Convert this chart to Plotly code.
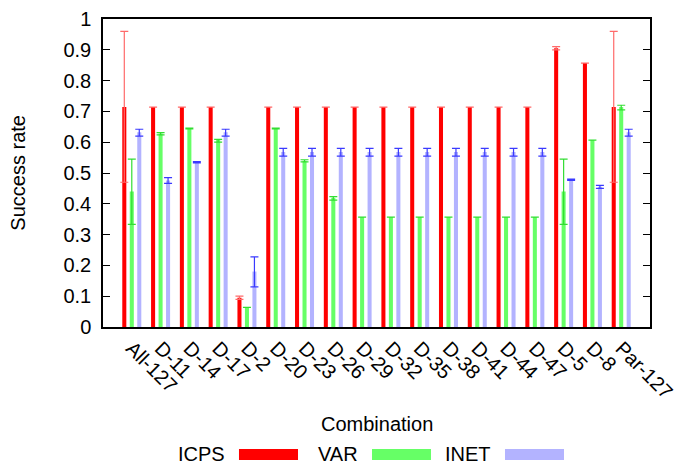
import plotly.graph_objects as go

combos = ['All-127', 'D-11', 'D-14', 'D-17', 'D-2', 'D-20', 'D-23', 'D-26', 'D-29',
          'D-32', 'D-35', 'D-38', 'D-41', 'D-44', 'D-47', 'D-5', 'D-8', 'Par-127']

icps = [0.714, 0.714, 0.714, 0.714, 0.095, 0.714, 0.714, 0.714, 0.714,
        0.714, 0.714, 0.714, 0.714, 0.714, 0.714, 0.905, 0.857, 0.714]
icps_lo = [0.47, 0.714, 0.714, 0.714, 0.09, 0.714, 0.714, 0.714, 0.714,
           0.714, 0.714, 0.714, 0.714, 0.714, 0.714, 0.90, 0.857, 0.47]
icps_hi = [0.96, 0.714, 0.714, 0.714, 0.10, 0.714, 0.714, 0.714, 0.714,
           0.714, 0.714, 0.714, 0.714, 0.714, 0.714, 0.91, 0.857, 0.96]

var = [0.44, 0.628, 0.643, 0.607, 0.064, 0.643, 0.54, 0.42, 0.357,
       0.357, 0.357, 0.357, 0.357, 0.357, 0.357, 0.44, 0.607, 0.714]
var_lo = [0.333, 0.624, 0.643, 0.600, 0.064, 0.643, 0.536, 0.412, 0.357,
          0.357, 0.357, 0.357, 0.357, 0.357, 0.357, 0.333, 0.607, 0.705]
var_hi = [0.545, 0.631, 0.646, 0.609, 0.064, 0.646, 0.543, 0.423, 0.357,
          0.357, 0.357, 0.357, 0.357, 0.357, 0.357, 0.545, 0.607, 0.72]

inet = [0.632, 0.476, 0.535, 0.632, 0.18, 0.568, 0.568, 0.568, 0.568,
        0.568, 0.568, 0.568, 0.568, 0.568, 0.568, 0.478, 0.455, 0.632]
inet_lo = [0.62, 0.466, 0.533, 0.62, 0.13, 0.555, 0.555, 0.555, 0.555,
           0.555, 0.555, 0.555, 0.555, 0.555, 0.555, 0.476, 0.45, 0.62]
inet_hi = [0.642, 0.485, 0.537, 0.642, 0.228, 0.58, 0.58, 0.58, 0.58,
           0.58, 0.58, 0.58, 0.58, 0.58, 0.58, 0.48, 0.46, 0.642]

series = [
    ('ICPS', icps, icps_lo, icps_hi, '#ff0000', '#ff6a6a'),
    ('VAR', var, var_lo, var_hi, '#66ff66', '#33dd33'),
    ('INET', inet, inet_lo, inet_hi, '#b3b3ff', '#3a3aff'),
]

FONT = 'Liberation Sans, Arial, sans-serif'
FS = 20

fig = go.Figure()
for name, vals, lo, hi, col, ecol in series:
    fig.add_trace(go.Bar(
        x=combos, y=vals, name=name, marker=dict(color=col, line=dict(width=0)),
        error_y=dict(type='data', symmetric=False,
                     array=[h - v for h, v in zip(hi, vals)],
                     arrayminus=[v - l for v, l in zip(vals, lo)],
                     color=ecol, thickness=1.2, width=4),
    ))

# gnuplot-style key below the plot: label first, then the colour sample
legend_x = [(0.2268, 0.2486, 0.3565), (0.4699, 0.4918, 0.5996), (0.7130, 0.7349, 0.8428)]
for (name, *_rest, col, _e), (tx, x0, x1) in zip(series, legend_x):
    fig.add_annotation(x=tx, y=-0.413, xref='paper', yref='paper', text=name,
                       showarrow=False, xanchor='right', yanchor='middle',
                       font=dict(size=FS, color='#000'))
    fig.add_shape(type='rect', xref='paper', yref='paper', x0=x0, x1=x1,
                  y0=-0.432, y1=-0.396, fillcolor=col, line=dict(width=0))

fig.add_annotation(x=0.5, y=-0.315, xref='paper', yref='paper', text='Combination',
                   showarrow=False, xanchor='center', yanchor='middle',
                   font=dict(size=FS, color='#000'))
fig.add_annotation(x=-0.156, y=0.5, xref='paper', yref='paper', text='Success rate',
                   showarrow=False, textangle=-90, xanchor='center', yanchor='middle',
                   font=dict(size=FS, color='#000'))

fig.update_layout(
    template='none',
    width=678, height=466,
    margin=dict(l=103, r=28, t=19, b=139),
    plot_bgcolor='white', paper_bgcolor='white',
    font=dict(family=FONT, size=FS, color='#000'),
    barmode='group', bargap=0.22, bargroupgap=0.46,
    showlegend=False,
)
fig.update_xaxes(
    type='category', range=[-1, 18], tickangle=45, ticks='', automargin=False,
    showline=True, linecolor='#000', linewidth=1.5, mirror=True,
    showgrid=False, zeroline=False,
)
fig.update_yaxes(
    range=[0, 1], dtick=0.1, tickformat='.1~f', ticks='inside', ticklen=7,
    tickcolor='#000', tickwidth=1.2, ticklabelstandoff=6, automargin=False,
    showline=True, linecolor='#000', linewidth=1.5, mirror='ticks',
    showgrid=False, zeroline=False,
)

fig.write_html('out.html', config={'displayModeBar': False},
               post_script="document.body.style.margin='0';")
